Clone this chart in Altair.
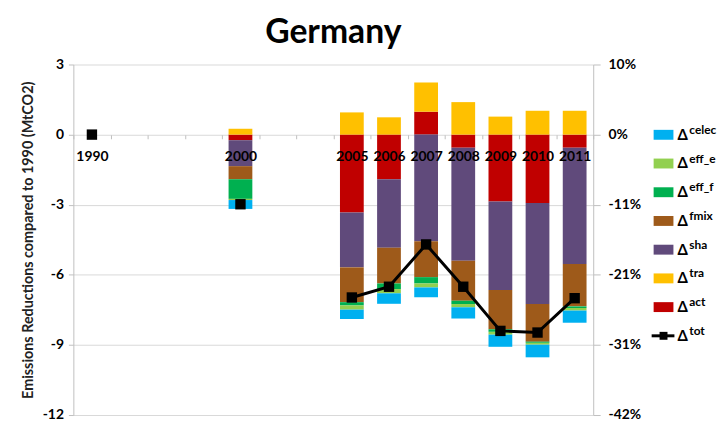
import altair as alt
import pandas as pd

# ---------------- data ----------------
slots = ["1990", "_a", "_b", "_c", "2000", "_d", "_e",
         "2005", "2006", "2007", "2008", "2009", "2010", "2011"]
bar_years = ["2000", "2005", "2006", "2007", "2008", "2009", "2010", "2011"]

act   = [-0.24, -3.33, -1.91,  0.98, -0.56, -2.86, -2.93, -0.56]
tra   = [ 0.25,  0.95,  0.74,  1.25,  1.39,  0.77,  1.02,  1.02]
sha   = [-1.11, -2.35, -2.93, -4.56, -4.84, -3.79, -4.32, -4.98]
fmix  = [-0.56, -1.49, -1.53, -1.54, -1.71, -1.68, -1.61, -1.81]
eff_f = [-0.84, -0.14, -0.24, -0.27, -0.14, -0.11, -0.05, -0.07]
eff_e = [-0.05, -0.18, -0.18, -0.17, -0.14, -0.12, -0.08, -0.11]
celec = [-0.38, -0.40, -0.45, -0.42, -0.48, -0.52, -0.54, -0.52]

tot_years = ["1990", "2000", "2005", "2006", "2007", "2008", "2009", "2010", "2011"]
tot = [0.0, -2.98, -6.97, -6.51, -4.70, -6.51, -8.40, -8.47, -7.00]

left_ticks = [3, 0, -3, -6, -9, -12]
right_labels = ["10%", "0%", "-11%", "-21%", "-31%", "-42%"]

stack_order = ["act", "tra", "sha", "fmix", "eff_f", "eff_e", "celec"]
series_vals = {"act": act, "tra": tra, "sha": sha, "fmix": fmix,
               "eff_f": eff_f, "eff_e": eff_e, "celec": celec}
colors = {"celec": "#00B0F0", "eff_e": "#92D050", "eff_f": "#00B050",
          "fmix": "#9E5A1A", "sha": "#604A7B", "tra": "#FFC000", "act": "#C00000"}
legend_keys = ["celec", "eff_e", "eff_f", "fmix", "sha", "tra", "act", "tot"]

# ---------------- tables ----------------
rows = []
for k, s in enumerate(stack_order):
    for yr, v in zip(bar_years, series_vals[s]):
        rows.append({"year": yr, "series": s, "value": v, "k": k})
df = pd.DataFrame(rows)

seg, prev = 0, None
trows = []
for yr, v in zip(tot_years, tot):
    i = slots.index(yr)
    if prev is not None and i != prev + 1:
        seg += 1
    trows.append({"year": yr, "tot": v, "seg": seg})
    prev = i
dft = pd.DataFrame(trows)

dleg = pd.DataFrame({"key": legend_keys, "idx": list(range(len(legend_keys)))})

FONT = "Lato"
color_scale = alt.Scale(domain=list(colors.keys()), range=list(colors.values()))
x_scale = alt.Scale(domain=slots, paddingInner=0, paddingOuter=0)
y_dom = alt.Scale(domain=[-12, 3], nice=False, zero=False)
H = 354
x_axis = alt.Axis(orient="bottom", offset=-round(H * 12 / 15),
                  labelExpr="indexof(datum.label, '_') == 0 ? '' : datum.label",
                  labelFont=FONT, labelFontWeight="bold", labelFontSize=14,
                  labelColor="black", labelPadding=11, labelAngle=0,
                  tickBand="extent", tickSize=4, tickColor="#BFBFBF",
                  domain=False, grid=False, zindex=1, title=None)

right_expr = " : ".join(f"datum.value == {v} ? '{l}'" for v, l in zip(left_ticks, right_labels)) + " : ''"

bars = alt.Chart(df).mark_bar(size=24).encode(
    x=alt.X("year:N", scale=x_scale, axis=x_axis),
    y=alt.Y("value:Q", stack="zero", scale=y_dom,
            title="Emissions Reductions compared to 1990 (MtCO2)",
            axis=alt.Axis(values=left_ticks, labelExpr="'' + datum.value",
                          grid=True, gridColor="#D9D9D9", domainColor="#BFBFBF",
                          tickColor="#BFBFBF", tickSize=5,
                          labelFont=FONT, labelFontWeight="bold", labelFontSize=14,
                          labelColor="black", labelPadding=5,
                          titleFont=FONT, titleFontSize=14.5, titleFontWeight="bold",
                          titleColor="#222222", titlePadding=7)),
    color=alt.Color("series:N", scale=color_scale, legend=None),
    order=alt.Order("k:Q", sort="ascending"),
)

line = alt.Chart(dft).mark_line(
    color="black", strokeWidth=3,
    point=alt.OverlayMarkDef(shape="square", size=110, filled=True, color="black", opacity=1),
).encode(
    x=alt.X("year:N", scale=x_scale, axis=x_axis),
    y=alt.Y("tot:Q", scale=y_dom, title=None,
            axis=alt.Axis(orient="right", values=left_ticks, labelExpr=right_expr,
                          grid=False, domainColor="#BFBFBF", tickColor="#BFBFBF",
                          tickSize=7, labelPadding=8,
                          labelFont=FONT, labelFontWeight="bold", labelFontSize=14,
                          labelColor="black")),
    detail="seg:N",
)

leg_y = alt.Y("idx:Q", scale=alt.Scale(domain=[0, 7], range=[71, 274]), axis=None)

leg_rect = alt.Chart(dleg).transform_filter("datum.key != 'tot'").mark_point(
    shape="M-1,-0.5H1V0.5H-1Z", size=400, filled=True, opacity=1
).encode(x=alt.value(596), y=leg_y, color=alt.Color("key:N", scale=color_scale, legend=None))

leg_delta = alt.Chart(dleg).mark_text(
    text="Δ", align="left", baseline="middle", font=FONT, fontSize=15,
    fontWeight="bold", color="black"
).encode(x=alt.value(610), y=leg_y)

leg_sup = alt.Chart(dleg).mark_text(
    align="left", baseline="middle", font=FONT, fontSize=12,
    fontWeight="bold", color="black", dy=-5
).encode(x=alt.value(622), y=leg_y, text="key:N")

leg_tot_line = alt.Chart(dleg).transform_filter("datum.key == 'tot'").mark_rule(
    color="black", strokeWidth=3
).encode(x=alt.value(584), x2=alt.value(607), y=leg_y)

leg_tot_pt = alt.Chart(dleg).transform_filter("datum.key == 'tot'").mark_point(
    shape="square", size=64, filled=True, color="black", opacity=1
).encode(x=alt.value(596), y=leg_y)

chart = alt.layer(
    bars, line, leg_rect, leg_delta, leg_sup, leg_tot_line, leg_tot_pt
).resolve_scale(y="independent").properties(
    width=525, height=H,
    title=alt.TitleParams("Germany", font=FONT, fontSize=34, fontWeight="bold",
                          color="black", anchor="middle", offset=8),
    padding={"left": 12, "top": 6, "right": 0, "bottom": 0},
).configure_view(stroke=None)

chart.save("out.html", embed_options={"renderer": "svg", "actions": False})
